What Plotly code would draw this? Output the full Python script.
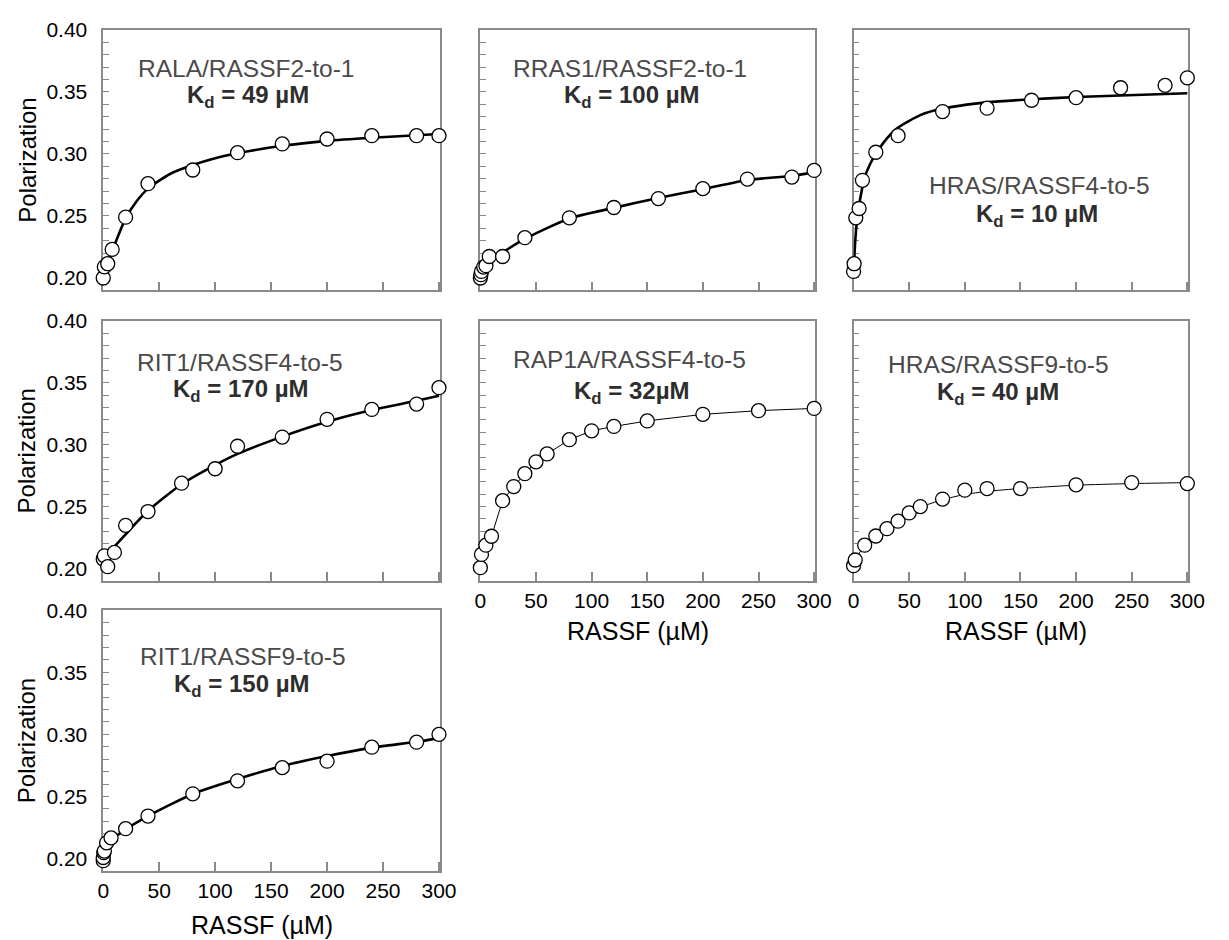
import plotly.graph_objects as go

# ---------------- data ----------------
# Panel 1: RALA/RASSF2-to-1
rala_x = [0, 1, 4, 8, 20, 40, 80, 120, 160, 200, 240, 280, 300]
rala_y = [0.200, 0.209, 0.2115, 0.223, 0.249, 0.276, 0.287, 0.301, 0.308, 0.312, 0.3147, 0.3147, 0.3147]
rala_fit_x = [0, 4, 8, 12, 20, 30, 40, 60, 80, 100, 120, 160, 200, 240, 300]
rala_fit_y = [0.203, 0.212, 0.222, 0.231, 0.248, 0.262, 0.272, 0.284, 0.291, 0.2965, 0.3005, 0.3065, 0.3105, 0.313, 0.316]

# Panel 2: RRAS1/RASSF2-to-1
rras1_x = [0, 0.5, 1, 3, 5, 8, 20, 40, 80, 120, 160, 200, 240, 280, 300]
rras1_y = [0.200, 0.2027, 0.2053, 0.2088, 0.2099, 0.2173, 0.2173, 0.2325, 0.2485, 0.2568, 0.264, 0.272, 0.2797, 0.2813, 0.2867]
rras1_fit_x = [0, 3, 8, 20, 40, 80, 120, 160, 200, 240, 280, 300]
rras1_fit_y = [0.2015, 0.206, 0.2125, 0.2205, 0.2315, 0.248, 0.2565, 0.2645, 0.2715, 0.279, 0.2822, 0.2853]

# Panel 3: HRAS/RASSF4-to-5
hras4_x = [0, 0.5, 2, 5, 8, 20, 40, 80, 120, 160, 200, 240, 280, 300]
hras4_y = [0.2053, 0.2115, 0.2485, 0.256, 0.2787, 0.3013, 0.3147, 0.3341, 0.3368, 0.3432, 0.3453, 0.3533, 0.3552, 0.3613]
hras4_fit_x = [0, 1, 2, 3, 4, 6, 10, 15, 20, 30, 40, 60, 80, 120, 160, 200, 240, 300]
hras4_fit_y = [0.2013, 0.222, 0.236, 0.245, 0.252, 0.264, 0.281, 0.292, 0.300, 0.3125, 0.3212, 0.3312, 0.3365, 0.3415, 0.344, 0.3458, 0.347, 0.3488]

# Panel 4: RIT1/RASSF4-to-5
rit4_x = [0, 1, 4, 10, 20, 40, 70, 100, 120, 160, 200, 240, 280, 300]
rit4_y = [0.2075, 0.2101, 0.2013, 0.2128, 0.2347, 0.2459, 0.2688, 0.2805, 0.2987, 0.3061, 0.3205, 0.3285, 0.3328, 0.3461]
rit4_fit_x = [0, 10, 20, 40, 70, 100, 120, 160, 200, 240, 280, 300]
rit4_fit_y = [0.2065, 0.2175, 0.2275, 0.2465, 0.268, 0.2835, 0.2925, 0.3065, 0.3185, 0.328, 0.3355, 0.3395]

# Panel 5: RAP1A/RASSF4-to-5 (thin line joins the points)
rap1a_x = [0, 1, 5, 10, 20, 30, 40, 50, 60, 80, 100, 120, 150, 200, 250, 300]
rap1a_y = [0.2005, 0.2112, 0.2187, 0.2259, 0.2547, 0.2661, 0.2765, 0.2861, 0.2925, 0.304, 0.3112, 0.3147, 0.3192, 0.3245, 0.3275, 0.3293]

# Panel 6: HRAS/RASSF9-to-5
hras9_x = [0, 1.5, 10, 20, 30, 40, 50, 60, 80, 100, 120, 150, 200, 250, 300]
hras9_y = [0.2021, 0.2067, 0.2187, 0.2261, 0.232, 0.2381, 0.2448, 0.2499, 0.256, 0.2632, 0.2645, 0.2645, 0.2675, 0.2693, 0.2685]
hras9_fit_x = [0, 5, 10, 20, 30, 40, 50, 60, 80, 100, 120, 150, 200, 250, 300]
hras9_fit_y = [0.2015, 0.212, 0.2185, 0.226, 0.232, 0.238, 0.2443, 0.2493, 0.2555, 0.2597, 0.2622, 0.2645, 0.2672, 0.2685, 0.2693]

# Panel 7: RIT1/RASSF9-to-5
rit9_x = [0, 0, 0.5, 1, 3, 7, 20, 40, 80, 120, 160, 200, 240, 280, 300]
rit9_y = [0.1982, 0.2008, 0.2047, 0.206, 0.2126, 0.2166, 0.224, 0.2342, 0.2521, 0.2626, 0.2732, 0.2784, 0.2897, 0.2937, 0.300]
rit9_fit_x = [0, 3, 7, 20, 40, 80, 120, 160, 200, 240, 280, 300]
rit9_fit_y = [0.204, 0.210, 0.2145, 0.2235, 0.2342, 0.252, 0.264, 0.2745, 0.2825, 0.2893, 0.294, 0.297]

panel_names = ["RALA/RASSF2-to-1", "RRAS1/RASSF2-to-1", "HRAS/RASSF4-to-5",
               "RIT1/RASSF4-to-5", "RAP1A/RASSF4-to-5", "HRAS/RASSF9-to-5",
               "RIT1/RASSF9-to-5"]
panel_kd = ["49 µM", "100 µM", "10 µM", "170 µM", "32µM", "40 µM", "150 µM"]

x_tick_vals = [0, 50, 100, 150, 200, 250, 300]
x_tick_labels = ["0", "50", "100", "150", "200", "250", "300"]
y_tick_vals = [0.20, 0.21, 0.22, 0.23, 0.24, 0.25, 0.26, 0.27, 0.28, 0.29, 0.30,
               0.31, 0.32, 0.33, 0.34, 0.35, 0.36, 0.37, 0.38, 0.39, 0.40]
y_tick_labels = ["0.20", "", "", "", "", "0.25", "", "", "", "", "0.30",
                 "", "", "", "", "0.35", "", "", "", "", "0.40"]

x_title = "RASSF (µM)"
y_title = "Polarization"

# ---------------- layout geometry (pixels) ----------------
W, H = 1229, 940
cols = [(99, 442), (483, 824), (863, 1204)]
rows = [(18, 282), (313, 576), (606, 870)]

panels = [
    dict(r=0, c=0, x=rala_x, y=rala_y, fx=rala_fit_x, fy=rala_fit_y, lw=2.6),
    dict(r=0, c=1, x=rras1_x, y=rras1_y, fx=rras1_fit_x, fy=rras1_fit_y, lw=2.6),
    dict(r=0, c=2, x=hras4_x, y=hras4_y, fx=hras4_fit_x, fy=hras4_fit_y, lw=2.6),
    dict(r=1, c=0, x=rit4_x, y=rit4_y, fx=rit4_fit_x, fy=rit4_fit_y, lw=2.6),
    dict(r=1, c=1, x=rap1a_x, y=rap1a_y, fx=rap1a_x, fy=rap1a_y, lw=1.0),
    dict(r=1, c=2, x=hras9_x, y=hras9_y, fx=hras9_fit_x, fy=hras9_fit_y, lw=1.0),
    dict(r=2, c=0, x=rit9_x, y=rit9_y, fx=rit9_fit_x, fy=rit9_fit_y, lw=2.6),
]

# text positions (pixel centres) for name / Kd lines
name_pos = [(245, 57), (635, 57), (1052, 176), (238, 355), (635, 352), (1011, 357), (241, 653)]
kd_pos = [(246, 86), (637, 86), (1050, 206), (239, 383), (637, 385), (1010, 386), (240, 682)]
bottom_panels = {4, 5, 6}
left_panels = {0, 3, 6}
xtitle_pos = {4: (644, 627), 5: (1028, 627), 6: (261, 925)}

FONT = "Liberation Sans, Arial, sans-serif"
FRAME = "#8a8a8a"

fig = go.Figure()
layout = dict(width=W, height=H, margin=dict(l=0, r=0, t=0, b=0, pad=0),
              paper_bgcolor="white", plot_bgcolor="white", showlegend=False,
              font=dict(family=FONT, color="black"))
annotations = []

for i, p in enumerate(panels):
    k = "" if i == 0 else str(i + 1)
    xa, ya = "x" + k, "y" + k
    line_shape = "linear" if i == 4 else "spline"
    fig.add_trace(go.Scatter(x=p["fx"], y=p["fy"], mode="lines", xaxis=xa, yaxis=ya,
                             line=dict(color="black", width=p["lw"], shape=line_shape,
                                       smoothing=0.6),
                             hoverinfo="skip"))
    fig.add_trace(go.Scatter(x=p["x"], y=p["y"], mode="markers", xaxis=xa, yaxis=ya,
                             cliponaxis=False,
                             marker=dict(symbol="circle", size=14, color="white",
                                         line=dict(color="black", width=1.3))))
    c0, c1 = cols[p["c"]]
    r0, r1 = rows[p["r"]]
    layout["xaxis" + k] = dict(
        domain=[c0 / W, c1 / W], anchor=ya, range=[0, 301],
        showline=True, mirror=True, linecolor=FRAME, linewidth=1.5,
        ticks="inside", ticklen=9, tickwidth=1.5, tickcolor=FRAME,
        tickvals=x_tick_vals,
        ticktext=x_tick_labels if i in bottom_panels else [""] * len(x_tick_vals),
        tickfont=dict(size=21, color="black", family=FONT),
        ticklabelstandoff=0,
        showgrid=False, zeroline=False, layer="below traces")
    layout["yaxis" + k] = dict(
        domain=[1 - r1 / H, 1 - r0 / H], anchor=xa, range=[0.19, 0.40],
        showline=True, mirror=True, linecolor=FRAME, linewidth=1.5,
        ticks="inside", ticklen=6, tickwidth=1.2, tickcolor=FRAME,
        tickvals=y_tick_vals,
        ticktext=y_tick_labels if i in left_panels else [""] * len(y_tick_vals),
        tickfont=dict(size=21, color="black", family=FONT),
        ticklabelstandoff=10,
        showgrid=False, zeroline=False, layer="below traces")

    nx, ny = name_pos[i]
    annotations.append(dict(text=panel_names[i], x=nx / W, y=1 - ny / H,
                            xref="paper", yref="paper", showarrow=False,
                            xanchor="center", yanchor="middle",
                            font=dict(size=24.5, color="#4a4a4a", family=FONT)))
    kx, ky = kd_pos[i]
    annotations.append(dict(text="<b>K<sub>d</sub> = " + panel_kd[i] + "</b>",
                            x=kx / W, y=1 - ky / H,
                            xref="paper", yref="paper", showarrow=False,
                            xanchor="center", yanchor="middle",
                            font=dict(size=24, color="#2e2e2e", family=FONT)))
    if i in left_panels:
        annotations.append(dict(text=y_title, x=21 / W, y=1 - ((r0 + r1) / 2) / H,
                                xref="paper", yref="paper", showarrow=False,
                                textangle=-90, xanchor="center", yanchor="middle",
                                font=dict(size=24, color="black", family=FONT)))
    if i in bottom_panels:
        tx, ty = xtitle_pos[i]
        annotations.append(dict(text=x_title, x=tx / W, y=1 - ty / H,
                                xref="paper", yref="paper", showarrow=False,
                                xanchor="center", yanchor="middle",
                                font=dict(size=25, color="black", family=FONT)))

layout["annotations"] = annotations
fig.update_layout(**layout)

fig.write_html("out.html",
               config={"displayModeBar": False, "responsive": False},
               post_script="document.body.style.margin='0';document.body.style.overflow='hidden';")
